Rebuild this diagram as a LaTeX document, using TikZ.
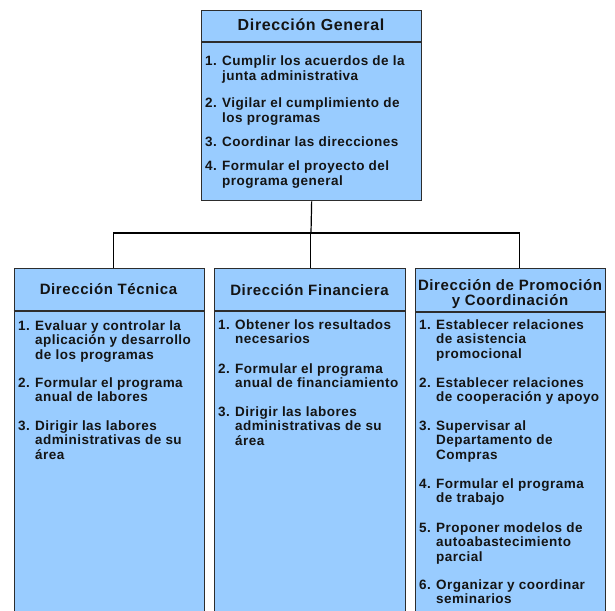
\documentclass[tikz,border=0pt]{standalone}
\usepackage{fontspec}
\setmainfont{Liberation Sans}
\newfontfamily\itemfam{Liberation Sans}[LetterSpace=3.5]
\newfontfamily\headfam{Liberation Sans}[LetterSpace=4]
\definecolor{boxfill}{RGB}{153,204,255}
\definecolor{boxline}{RGB}{45,45,45}
\definecolor{ink}{RGB}{20,20,20}
% hanging number column for the duty lists
\newcommand\numbox[1]{\makebox[17pt][l]{#1}}
\newcommand\dutylist[1]{\begin{tabular}[t]{@{}l@{}}#1\end{tabular}}
\newcommand\titlelines[1]{\begin{tabular}[t]{@{}c@{}}#1\end{tabular}}

\begin{document}
\begin{tikzpicture}[x=1pt,y=-1pt,
  unit/.style={draw=boxline, line width=1.3pt, fill=boxfill, inner sep=0pt, anchor=north west},
  rule/.style={draw=boxline, line width=1.3pt},
  title/.style={font=\headfam\bfseries\fontsize{15}{15.5}\selectfont, text=ink, inner sep=0pt, anchor=base},
  bigtitle/.style={title, font=\headfam\bfseries\fontsize{16}{17}\selectfont},
  duty/.style={font=\itemfam\bfseries\fontsize{13.5}{14.5}\selectfont, text=ink, inner sep=0pt, anchor=base west},
  link/.style={draw=black, line width=1.2pt}]
\useasboundingbox (0,0) rectangle (615,610);
\clip (0,0) rectangle (615,610);

% boxes
\node[unit, minimum width=220pt, minimum height=190pt] (gen) at (201,10) {};
\node[unit, minimum width=190pt, minimum height=380pt] (tec) at (13.5,268) {};
\node[unit, minimum width=191pt, minimum height=380pt] (fin) at (214,268) {};
\node[unit, minimum width=190pt, minimum height=380pt] (pro) at (415,268) {};

% header rules
\draw[rule] ([yshift=-32pt]gen.north west) -- ([yshift=-32pt]gen.north east);
\draw[rule] ([yshift=-43pt]tec.north west) -- ([yshift=-43pt]tec.north east);
\draw[rule] ([yshift=-43pt]fin.north west) -- ([yshift=-43pt]fin.north east);
\draw[rule] ([yshift=-44pt]pro.north west) -- ([yshift=-44pt]pro.north east);

% connectors
\coordinate (bus) at (311,233);
\draw[link] (gen.south) -- (bus);
\draw[link] ([xshift=4.5pt]tec.north) |- (bus) -| ([xshift=9pt]pro.north);
\draw[link] ([xshift=0.5pt]fin.north) -- ([xshift=0.5pt]fin.north |- bus);

% titles
\node[bigtitle] (genT) at (311,31) {Dirección General};
\node[title] (tecT) at (108.5,294.5) {Dirección Técnica};
\node[title] (finT) at (309.5,295.5) {Dirección Financiera};
\node[title] (proT) at (510,290) {\titlelines{Dirección de Promoción\\y Coordinación}};

% Dirección General
\node[duty] (g1) at (205,65.5) {\dutylist{\numbox{1.}Cumplir los acuerdos de la\\\numbox{}junta administrativa}};
\node[duty] (g2) at (205,107.5) {\dutylist{\numbox{2.}Vigilar el cumplimiento de\\\numbox{}los programas}};
\node[duty] (g3) at (205,146) {\dutylist{\numbox{3.}Coordinar las direcciones}};
\node[duty] (g4) at (205,170.5) {\dutylist{\numbox{4.}Formular el proyecto del\\\numbox{}programa general}};

% Dirección Técnica
\node[duty] (t1) at (18,330) {\dutylist{\numbox{1.}Evaluar y controlar la\\\numbox{}aplicación y desarrollo\\\numbox{}de los programas}};
\node[duty] (t2) at (18,387) {\dutylist{\numbox{2.}Formular el programa\\\numbox{}anual de labores}};
\node[duty] (t3) at (18,430) {\dutylist{\numbox{3.}Dirigir las labores\\\numbox{}administrativas de su\\\numbox{}área}};

% Dirección Financiera
\node[duty] (f1) at (218,329) {\dutylist{\numbox{1.}Obtener los resultados\\\numbox{}necesarios}};
\node[duty] (f2) at (218,373) {\dutylist{\numbox{2.}Formular el programa\\\numbox{}anual de financiamiento}};
\node[duty] (f3) at (218,416) {\dutylist{\numbox{3.}Dirigir las labores\\\numbox{}administrativas de su\\\numbox{}área}};

% Dirección de Promoción y Coordinación
\node[duty] (p1) at (419,329) {\dutylist{\numbox{1.}Establecer relaciones\\\numbox{}de asistencia\\\numbox{}promocional}};
\node[duty] (p2) at (419,387) {\dutylist{\numbox{2.}Establecer relaciones\\\numbox{}de cooperación y apoyo}};
\node[duty] (p3) at (419,430) {\dutylist{\numbox{3.}Supervisar al\\\numbox{}Departamento de\\\numbox{}Compras}};
\node[duty] (p4) at (419,488) {\dutylist{\numbox{4.}Formular el programa\\\numbox{}de trabajo}};
\node[duty] (p5) at (419,532) {\dutylist{\numbox{5.}Proponer modelos de\\\numbox{}autoabastecimiento\\\numbox{}parcial}};
\node[duty] (p6) at (419,589) {\dutylist{\numbox{6.}Organizar y coordinar\\\numbox{}seminarios}};
\end{tikzpicture}
\end{document}
